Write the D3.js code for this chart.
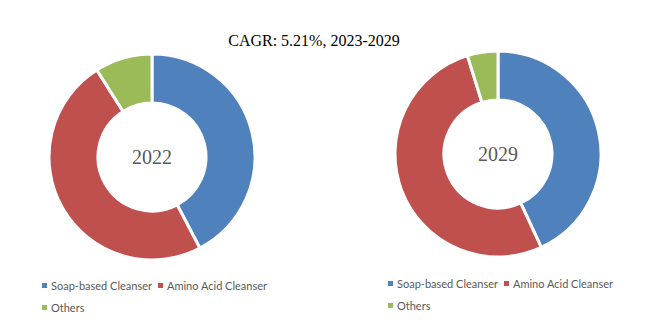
<!DOCTYPE html>
<html>
<head>
<meta charset="utf-8">
<script src="https://cdn.jsdelivr.net/npm/d3@7"></script>
<style>
  body { margin: 0; background: #fff; }
  svg { display: block; }
</style>
</head>
<body>
<div id="chart"></div>
<script>
// data
var segments = ["Soap-based Cleanser", "Amino Acid Cleanser", "Others"];
var years = ["2022", "2029"];
var share2022 = [42.3, 48.7, 9.0];
var share2029 = [43.1, 52.1, 4.8];
var title = "CAGR: 5.21%, 2023-2029";

var w = 649, h = 326;
var colors = d3.scaleOrdinal().domain(segments).range(["#4F81BD", "#C0504D", "#9BBB59"]);

var svg = d3.select("#chart").append("svg")
  .attr("width", w)
  .attr("height", h);

svg.append("text")
  .attr("x", 314)
  .attr("y", 46)
  .attr("text-anchor", "middle")
  .attr("font-family", "'Liberation Serif', serif")
  .attr("font-size", "16px")
  .attr("fill", "#000")
  .text(title);

var pie = d3.pie().sort(null).value(function(d) { return d.v; });
var arc = d3.arc().innerRadius(54).outerRadius(103);

var donuts = [
  { year: years[0], values: share2022, cx: 152, cy: 157, lx: 42, ly: 286 },
  { year: years[1], values: share2029, cx: 498, cy: 154, lx: 388, ly: 284 }
];

donuts.forEach(function(dn) {
  var data = segments.map(function(s, i) { return { name: s, v: dn.values[i] }; });
  var g = svg.append("g").attr("transform", "translate(" + dn.cx + "," + dn.cy + ")");

  g.selectAll("path")
    .data(pie(data))
    .enter()
    .append("path")
    .attr("d", arc)
    .attr("fill", function(d) { return colors(d.data.name); })
    .attr("stroke", "#fff")
    .attr("stroke-width", 3);

  g.append("text")
    .attr("text-anchor", "middle")
    .attr("dy", "0.35em")
    .attr("font-family", "'Liberation Serif', serif")
    .attr("font-size", "20px")
    .attr("fill", "#595959")
    .text(dn.year);

  // legend: two on the first row, one on the second
  var rows = [[0, 1], [2]];
  var lg = svg.append("g").attr("transform", "translate(" + dn.lx + "," + dn.ly + ")");
  var x = 0;
  rows.forEach(function(row, r) {
    x = 0;
    row.forEach(function(i) {
      var item = lg.append("g").attr("transform", "translate(" + x + "," + (r * 22) + ")");
      item.append("rect")
        .attr("x", 0).attr("y", -3)
        .attr("width", 5).attr("height", 5)
        .attr("fill", colors(segments[i]));
      var t = item.append("text")
        .attr("x", 9)
        .attr("dy", "0.35em")
        .attr("font-family", "Lato, sans-serif")
        .attr("font-size", "11px")
        .attr("fill", "#595959")
        .text(segments[i]);
      x += 9 + t.node().getComputedTextLength() + 6;
    });
  });
});
</script>
</body>
</html>
